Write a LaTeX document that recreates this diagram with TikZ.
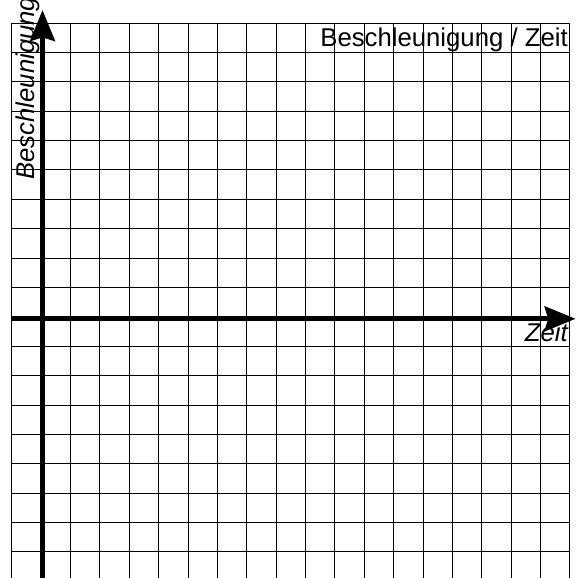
\documentclass[tikz,border=0pt]{standalone}
\usepackage{fontspec}
\setmainfont{Liberation Sans}
\usetikzlibrary{arrows.meta}

\tikzset{
    gitter/.style={line width=0.85pt, black},
    achse/.style={line width=4.8pt, -{Stealth[length=1.05cm,width=0.84cm,inset=0.12cm]}},
    beschriftung/.style={inner sep=0pt, font=\fontsize{24.9}{30}\selectfont}
}

\begin{document}
\begin{tikzpicture}
        \useasboundingbox (0, 0) rectangle (19.605, 19.673);
        \clip (0, 0) rectangle (19.605, 19.673);

        % Gitter
        \begin{scope}[shift={(0.398, -0.11)}]
            \draw[gitter] (0, 0) grid (19, 19);
        \end{scope}

        % Achsen
        \coordinate (xstart) at (0.398, 8.822);
        \coordinate (xende) at (19.59, 8.822);
        \coordinate (ystart) at (1.447, -0.3);
        \coordinate (yende) at (1.447, 19.33);

        \draw[achse] (xstart) -- (xende);
        \draw[achse] (ystart) -- (yende);

        % Beschriftungen
        \node[beschriftung, anchor=base east] (titel) at (19.33, 18.08) {Beschleunigung / Zeit};
        \node[beschriftung, anchor=base east] (xlabel) at (19.33, 8.04) {\itshape Zeit};
        \node[beschriftung, anchor=base west, rotate=90] (ylabel) at (1.174, 13.55) {\itshape Beschleunigung};

    \end{tikzpicture}
\end{document}
